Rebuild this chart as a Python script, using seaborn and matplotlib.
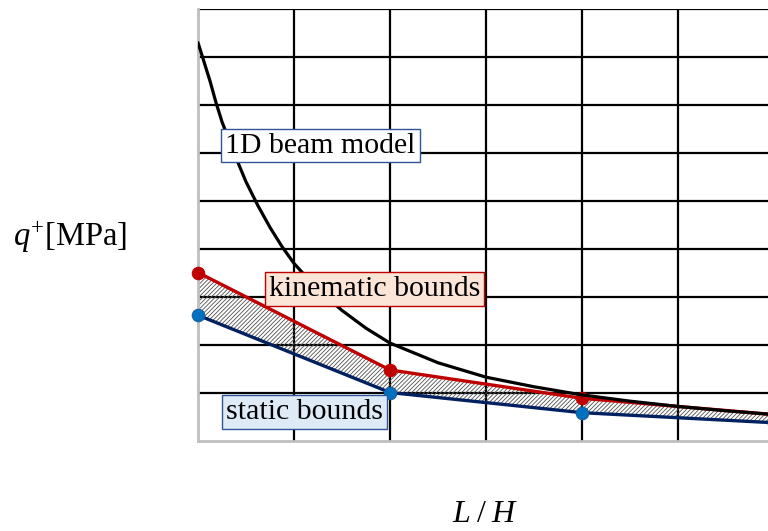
import matplotlib
matplotlib.use("Agg")
import matplotlib.pyplot as plt
import seaborn as sns
import pandas as pd

# ---- data (grid units) ----
beam_x = [0, 0.0625, 0.125, 0.1875, 0.25, 0.375, 0.5, 0.625, 0.75, 0.875, 1.0,
          1.25, 1.5, 1.75, 2.0, 2.5, 3.0, 3.5, 4.0, 4.5, 5.0, 5.5, 6.0]
beam_y = [8.3, 7.9, 7.5, 7.05, 6.65, 6.0, 5.4, 4.9, 4.45, 4.05, 3.7,
          3.15, 2.72, 2.35, 2.04, 1.63, 1.33, 1.13, 0.96, 0.83, 0.72, 0.63, 0.55]
bound_x = [0, 2, 4, 6]
kinematic_y = [3.51, 1.48, 0.89, 0.55]
static_y = [2.62, 1.01, 0.59, 0.38]
label_beam = "1D beam model"
label_kin = "kinematic bounds"
label_stat = "static bounds"

sns.set_style("white")
plt.rcParams['font.family'] = ['Liberation Serif', 'DejaVu Serif']
plt.rcParams['text.color'] = 'black'
plt.rcParams['mathtext.fontset'] = 'custom'
plt.rcParams['mathtext.rm'] = 'Liberation Serif'
plt.rcParams['mathtext.it'] = 'Liberation Serif:italic'
plt.rcParams['hatch.linewidth'] = 0.6

fig = plt.figure(figsize=(7.68, 5.31), dpi=100)
ax = fig.add_axes([198 / 768, 90 / 531, 576 / 768, 432 / 531])

ax.set_xlim(0, 6)
ax.set_ylim(0, 9)
ax.set_xticks(range(1, 7))
ax.set_yticks(range(1, 10))
ax.set_xticklabels([])
ax.set_yticklabels([])
ax.tick_params(length=0)
ax.grid(True, color='black', lw=1.6)
ax.set_axisbelow(True)
for s in ['top', 'right']:
    ax.spines[s].set_visible(False)
for s in ['left', 'bottom']:
    ax.spines[s].set_color('#BFBFBF')
    ax.spines[s].set_linewidth(2)

# hatched band between bounds
ax.fill_between(bound_x, static_y, kinematic_y, facecolor='none',
                edgecolor='#505050', hatch='////////', lw=0, zorder=2)

kin_df = pd.DataFrame({'x': bound_x, 'y': kinematic_y})
stat_df = pd.DataFrame({'x': bound_x, 'y': static_y})
beam_df = pd.DataFrame({'x': beam_x, 'y': beam_y})

sns.lineplot(data=stat_df, x='x', y='y', ax=ax, color='#002060', lw=2.4,
             marker='o', markersize=9, markerfacecolor='#0070C0',
             markeredgecolor='#1F5F9F', markeredgewidth=0.8, zorder=3, clip_on=False)
sns.lineplot(data=kin_df, x='x', y='y', ax=ax, color='#C00000', lw=2.4,
             marker='o', markersize=9, markerfacecolor='#C00000',
             markeredgecolor='#C00000', zorder=3, clip_on=False)
sns.lineplot(data=beam_df, x='x', y='y', ax=ax, color='black', lw=2.3, zorder=4)
ax.set_xlabel('')
ax.set_ylabel('')

fs = 21.5
bp = 'square,pad=0.13'
ax.text(1.276, 6.156, label_beam, ha='center', va='center', fontsize=fs, zorder=6,
        bbox=dict(boxstyle=bp, facecolor='white', edgecolor='#2F5597', lw=1))
ax.text(1.839, 3.167, label_kin, ha='center', va='center', fontsize=fs, zorder=6,
        bbox=dict(boxstyle=bp, facecolor='#FBE5D6', edgecolor='#C00000', lw=1))
ax.text(1.109, 0.604, label_stat, ha='center', va='center', fontsize=fs, zorder=6,
        bbox=dict(boxstyle=bp, facecolor='#DEEBF7', edgecolor='#2F5597', lw=1))

fig.text(13 / 768, (531 - 237) / 531, r'$q^{+}$[MPa]', ha='left', va='center', fontsize=23.5)
fig.text(485 / 768, (531 - 515) / 531, r'$L\;/\;H$', ha='center', va='center', fontsize=23)

fig.savefig('out.png', dpi=100)
